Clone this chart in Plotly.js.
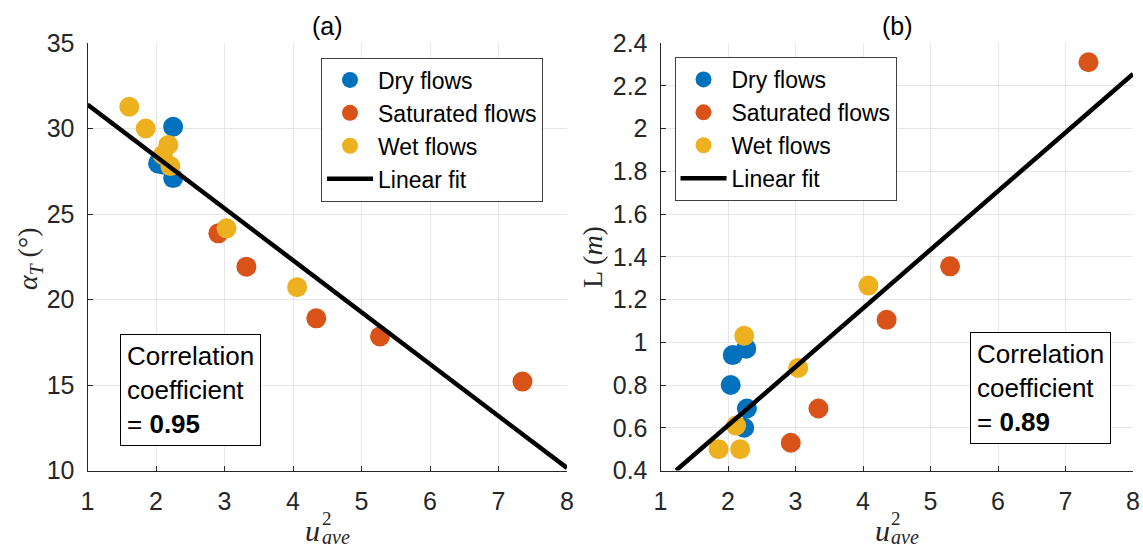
<!DOCTYPE html>
<html>
<head>
<meta charset="utf-8">
<script src="https://cdn.plot.ly/plotly-3.0.1.min.js"></script>
<style>
  html, body { margin: 0; padding: 0; background: #ffffff; }
  #grafico { width: 1143px; height: 549px; }
</style>
</head>
<body>
<div id="grafico"></div>
<script>
// datos
// (a) angulo alpha_T frente a u_ave^2
const dryXa = [2.25, 2.03, 2.10, 2.25];
const dryYa = [30.1, 27.96, 27.9, 27.1];
const satXa = [2.91, 3.32, 4.34, 5.27, 7.35];
const satYa = [23.87, 21.92, 18.9, 17.84, 15.2];
const wetXa = [1.61, 1.85, 2.18, 2.10, 2.21, 3.03, 4.06];
const wetYa = [31.27, 30.0, 29.04, 28.45, 27.8, 24.16, 20.72];
const fitXa = [1, 8];
const fitYa = [31.4, 10.15];

// (b) longitud L frente a u_ave^2
const dryXb = [2.07, 2.27, 2.04, 2.28, 2.24];
const dryYb = [0.94, 0.97, 0.80, 0.69, 0.60];
const satXb = [2.93, 3.34, 4.35, 5.29, 7.34];
const satYb = [0.53, 0.69, 1.105, 1.355, 2.31];
const wetXb = [2.24, 3.04, 4.08, 2.12, 1.86, 2.18];
const wetYb = [1.03, 0.88, 1.265, 0.61, 0.50, 0.50];
const fitXb = [1.23, 8];
const fitYb = [0.40, 2.255];

const etiquetas = ["Dry flows", "Saturated flows", "Wet flows", "Linear fit"];
const colores = ["#0072BD", "#D95319", "#EDB120"];

const W = 1143, H = 549;
const px = v => v / W;
const py = v => 1 - v / H;

function puntos(x, y, i, xa, ya, leg) {
  return {
    x: x, y: y, xaxis: xa, yaxis: ya, legend: leg,
    type: "scatter", mode: "markers", name: etiquetas[i],
    marker: { color: colores[i], size: 20, line: { width: 0 } },
    cliponaxis: false
  };
}

function ajuste(x, y, xa, ya, leg) {
  return {
    x: x, y: y, xaxis: xa, yaxis: ya, legend: leg,
    type: "scatter", mode: "lines", name: etiquetas[3],
    line: { color: "#000000", width: 4.5 }
  };
}

const trazas = [
  puntos(dryXa, dryYa, 0, "x", "y", "legend"),
  puntos(satXa, satYa, 1, "x", "y", "legend"),
  puntos(wetXa, wetYa, 2, "x", "y", "legend"),
  ajuste(fitXa, fitYa, "x", "y", "legend"),
  puntos(dryXb, dryYb, 0, "x2", "y2", "legend2"),
  puntos(satXb, satYb, 1, "x2", "y2", "legend2"),
  puntos(wetXb, wetYb, 2, "x2", "y2", "legend2"),
  ajuste(fitXb, fitYb, "x2", "y2", "legend2")
];

const fuente = "Liberation Sans, Arial, sans-serif";
const serif = "Liberation Serif, Times New Roman, serif";

function eje(extra) {
  return Object.assign({
    showline: true, linecolor: "#262626", linewidth: 1,
    ticks: "inside", ticklen: 5, tickcolor: "#262626",
    showgrid: true, gridcolor: "#e6e6e6", zeroline: false,
    tickfont: { family: fuente, size: 25, color: "#262626" },
    fixedrange: true
  }, extra);
}

function leyenda(x, y) {
  return {
    x: x, y: y, xanchor: "left", yanchor: "top",
    bgcolor: "#ffffff", bordercolor: "#404040", borderwidth: 1,
    font: { family: fuente, size: 23, color: "#000000" },
    itemwidth: 46, tracegroupgap: 0, itemsizing: "trace"
  };
}

function texto(t, x, y, size, extra) {
  return Object.assign({
    text: t, xref: "paper", yref: "paper", x: px(x), y: py(y),
    xanchor: "center", yanchor: "middle", showarrow: false,
    font: { family: serif, size: size, color: "#262626" }
  }, extra || {});
}

function caja(t, x, y) {
  return {
    text: t, xref: "paper", yref: "paper", x: px(x), y: py(y),
    xanchor: "left", yanchor: "top", showarrow: false, align: "left",
    bgcolor: "#ffffff", bordercolor: "#000000", borderwidth: 1, borderpad: 6,
    font: { family: fuente, size: 26, color: "#000000" }
  };
}

const layout = {
  width: W, height: H,
  margin: { l: 0, r: 0, t: 0, b: 0 },
  paper_bgcolor: "#ffffff", plot_bgcolor: "#ffffff",
  showlegend: true,
  xaxis: eje({ domain: [px(87.5), px(567)], range: [1, 8], dtick: 1, anchor: "y", ticklabelstandoff: 8 }),
  yaxis: eje({ domain: [py(470.5), py(43)], range: [10, 35], dtick: 5, anchor: "x", ticklabelstandoff: 7 }),
  xaxis2: eje({ domain: [px(660.5), px(1133)], range: [1, 8], dtick: 1, anchor: "y2", ticklabelstandoff: 8 }),
  yaxis2: eje({ domain: [py(470.5), py(43)], range: [0.4, 2.4], dtick: 0.2, anchor: "x2", ticklabelstandoff: 7 }),
  legend: leyenda(px(321), py(57.5)),
  legend2: leyenda(px(674.5), py(57)),
  annotations: [
    texto("(a)", 327, 26, 25, { font: { family: fuente, size: 25, color: "#000000" } }),
    texto("(b)", 897, 26, 25, { font: { family: fuente, size: 25, color: "#000000" } }),
    texto("<i>α</i><sub><i>T</i></sub> (°)", 29, 259, 28, { textangle: -90 }),
    texto("L (<i>m</i>)", 593, 257, 28, { textangle: -90 }),
    texto("<i>u</i>", 312.5, 530, 30),
    texto("2", 326.5, 518, 19),
    texto("<i>ave</i>", 336, 537, 20),
    texto("<i>u</i>", 882, 530, 30),
    texto("2", 896, 518, 19),
    texto("<i>ave</i>", 905.5, 537, 20),
    caja("Correlation<br>coefficient<br>= <b>0.95</b>", 120, 334),
    caja("Correlation<br>coefficient<br>= <b>0.89</b>", 969.5, 332)
  ]
};

Plotly.newPlot("grafico", trazas, layout, { staticPlot: true });
</script>
</body>
</html>
